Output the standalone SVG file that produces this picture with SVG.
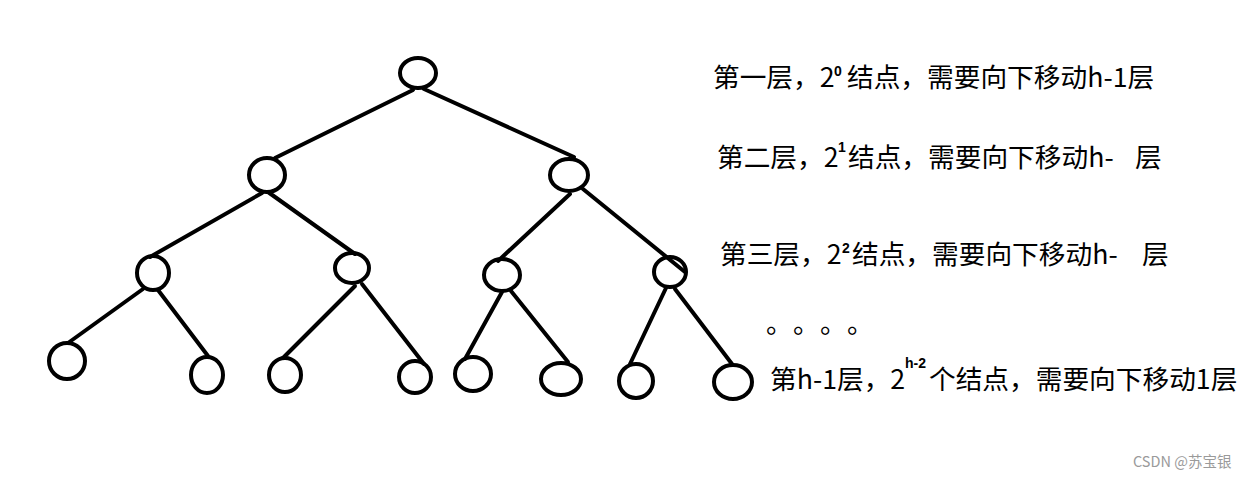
<svg xmlns="http://www.w3.org/2000/svg" width="1250" height="478" viewBox="0 0 1250 478">
<style>
.n{fill:none;stroke:#000;stroke-width:4}
.e{stroke:#000;stroke-width:4;stroke-linecap:round;fill:none}
.t{font-family:"Noto Sans CJK SC","Microsoft YaHei",sans-serif;font-size:26.7px;fill:#000}
.s{font-family:"Liberation Sans","Noto Sans CJK SC",sans-serif;font-size:14px;font-weight:bold}
.w{font-family:"Noto Sans CJK SC",sans-serif;font-size:14.5px;fill:#9a9a9a}
</style>
<rect width="1250" height="478" fill="#fff"/>
<g id="connectors">
<line class="e" x1="413" y1="90" x2="275" y2="158"/>
<line class="e" x1="424" y1="89" x2="574" y2="157"/>
<line class="e" x1="262" y1="193" x2="150" y2="257"/>
<line class="e" x1="268" y1="192" x2="355" y2="254"/>
<line class="e" x1="570" y1="194" x2="498" y2="261"/>
<line class="e" x1="583" y1="189" x2="685" y2="272"/>
<line class="e" x1="143" y1="289" x2="68" y2="343"/>
<line class="e" x1="158" y1="290" x2="208" y2="356"/>
<line class="e" x1="355" y1="286" x2="283" y2="358"/>
<line class="e" x1="362" y1="284" x2="424" y2="364"/>
<line class="e" x1="502" y1="292" x2="465" y2="359"/>
<line class="e" x1="511" y1="291" x2="568" y2="362"/>
<line class="e" x1="666" y1="288" x2="630" y2="364"/>
<line class="e" x1="675" y1="289" x2="732" y2="364"/>
</g>
<g id="n1"><ellipse class="n" cx="418" cy="73" rx="18" ry="15"/></g>
<g id="n2"><ellipse class="n" cx="267" cy="175" rx="18" ry="17"/></g>
<g id="n3"><ellipse class="n" cx="569" cy="175" rx="19" ry="16"/></g>
<g id="n4"><ellipse class="n" cx="153" cy="273" rx="16" ry="17"/></g>
<g id="n5"><ellipse class="n" cx="352" cy="268" rx="17" ry="15"/></g>
<g id="n6"><ellipse class="n" cx="502" cy="275" rx="18" ry="16"/></g>
<g id="n7"><ellipse class="n" cx="670" cy="272" rx="16" ry="15"/></g>
<g id="n8"><ellipse class="n" cx="67" cy="361" rx="18" ry="18"/></g>
<g id="n9"><ellipse class="n" cx="207" cy="375" rx="16" ry="18"/></g>
<g id="n10"><ellipse class="n" cx="285" cy="375" rx="16" ry="17"/></g>
<g id="n11"><ellipse class="n" cx="415" cy="377" rx="16" ry="16"/></g>
<g id="n12"><ellipse class="n" cx="473" cy="374" rx="18" ry="17"/></g>
<g id="n13"><ellipse class="n" cx="561" cy="379" rx="20" ry="16"/></g>
<g id="n14"><ellipse class="n" cx="636" cy="381" rx="17" ry="17"/></g>
<g id="n15"><ellipse class="n" cx="733" cy="382" rx="19" ry="17"/></g>
<g id="labels">
<text class="t" x="713" y="87">第一层，2<tspan class="s" x="834" y="76">0</tspan><tspan x="847" y="87">结点，需要向下移动h-1层</tspan></text>
<text class="t" x="717" y="167">第二层，2<tspan class="s" x="838" y="152">1</tspan><tspan x="848" y="167">结点，需要向下移动h-</tspan><tspan x="1135" y="167">层</tspan></text>
<text class="t" x="720" y="264">第三层，2<tspan class="s" x="842" y="253">2</tspan><tspan x="852" y="264">结点，需要向下移动h-</tspan><tspan x="1142" y="264">层</tspan></text>
<text class="t" x="766 793 820 847" y="333">。。。。</text>
<text class="t" x="770" y="389">第h-1层，2<tspan class="s" x="905" y="368">h-2</tspan><tspan x="929" y="389">个结点，需要向下移动1层</tspan></text>
<text class="w" x="1133" y="467">CSDN @苏宝银</text>
</g>
</svg>
